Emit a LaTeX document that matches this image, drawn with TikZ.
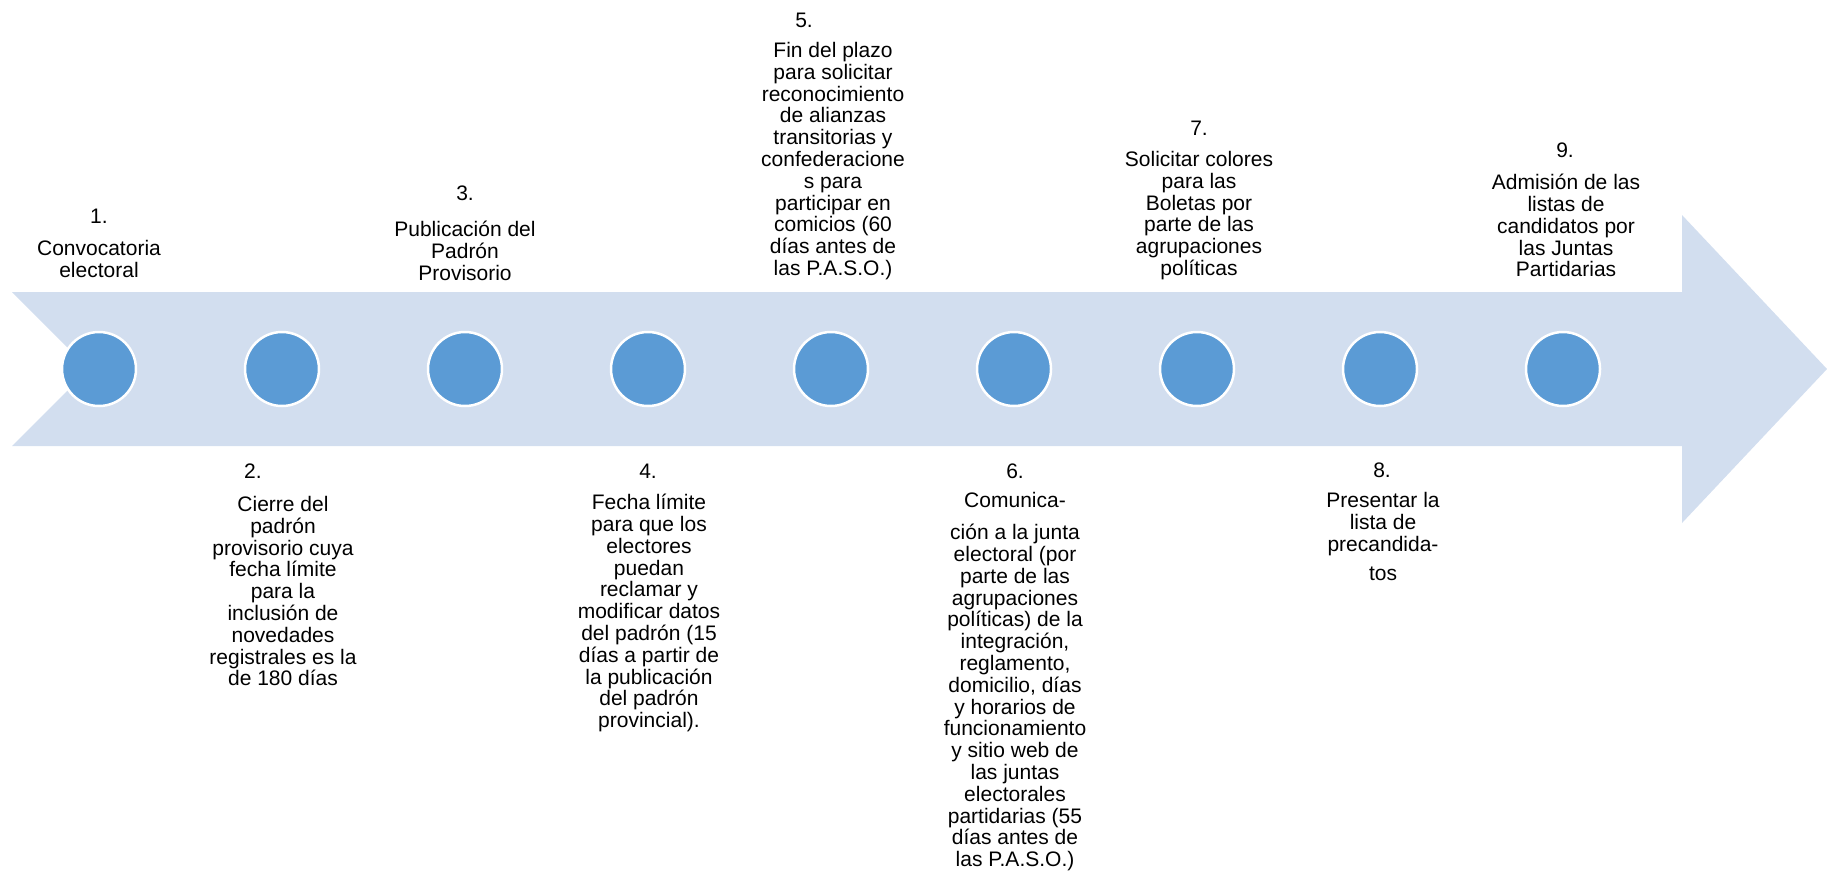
\documentclass[tikz,border=0pt]{standalone}
\usepackage{fontspec}
\setmainfont{Liberation Sans}
\definecolor{shaft}{HTML}{D2DEEF}
\definecolor{dotblue}{HTML}{5B9BD5}

\begin{document}
\begin{tikzpicture}[x=1pt,y=-1pt,
  dot/.style={circle,fill=dotblue,draw=white,line width=2.5pt,minimum size=74pt,inner sep=0pt},
  num/.style={anchor=north,inner sep=0pt,font=\fontsize{21}{21.8}\selectfont},
  txt/.style={anchor=north,inner sep=0pt,align=center,font=\fontsize{21}{21.8}\selectfont}]
\useasboundingbox (0,0) rectangle (1827,873);
\fill[shaft] (12,292) -- (1682,292) -- (1682,215) -- (1827,369) -- (1682,523)
  -- (1682,446) -- (12,446) -- (89,369) -- cycle;

\foreach \i in {1,...,9}
  \node[dot] (c\i) at ({99+183*(\i-1)},369) {};

\node[num] (n1) at (99,209) {1.};
\node[txt] (t1) at (99,240) {Convocatoria\\electoral};

\node[num] (n2) at (253,464) {2.};
\node[txt] (t2) at (283,496) {Cierre del\\padrón\\provisorio cuya\\fecha límite\\para la\\inclusión de\\novedades\\registrales es la\\de 180 días};

\node[num] (n3) at (465,186) {3.};
\node[txt] (t3) at (465,221) {Publicación del\\Padrón\\Provisorio};

\node[num] (n4) at (648,464) {4.};
\node[txt] (t4) at (649,494) {Fecha límite\\para que los\\electores\\puedan\\reclamar y\\modificar datos\\del padrón (15\\días a partir de\\la publicación\\del padrón\\provincial).};

\node[num] (n5) at (804,12.5) {5.};
\node[txt] (t5) at (833,42) {Fin del plazo\\para solicitar\\reconocimiento\\de alianzas\\transitorias y\\confederacione\\s para\\participar en\\comicios (60\\días antes de\\las P.A.S.O.)};

\node[num] (n6) at (1015,464) {6.};
\node[txt] (t6) at (1015,492.5) {Comunica-\\[10pt]ción a la junta\\electoral (por\\parte de las\\agrupaciones\\políticas) de la\\integración,\\reglamento,\\domicilio, días\\y horarios de\\funcionamiento\\y sitio web de\\las juntas\\electorales\\partidarias (55\\días antes de\\las P.A.S.O.)};

\node[num] (n7) at (1199,121) {7.};
\node[txt] (t7) at (1199,151) {Solicitar colores\\para las\\Boletas por\\parte de las\\agrupaciones\\políticas};

\node[num] (n8) at (1382,462.5) {8.};
\node[txt] (t8) at (1383,492.5) {Presentar la\\lista de\\precandida-\\[7pt]tos};

\node[num] (n9) at (1565,142.5) {9.};
\node[txt] (t9) at (1566,174) {Admisión de las\\listas de\\candidatos por\\las Juntas\\Partidarias};
\end{tikzpicture}
\end{document}
